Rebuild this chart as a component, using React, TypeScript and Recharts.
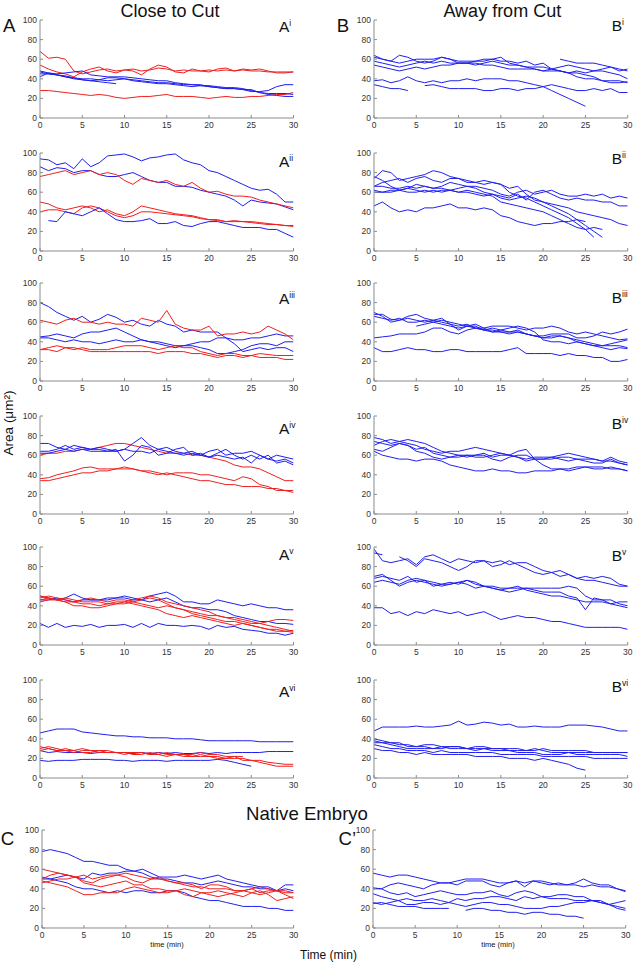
import React from 'react';
import { LineChart, Line, XAxis, YAxis } from 'recharts';

const N = null;
const T = [0,1,2,3,4,5,6,7,8,9,10,11,12,13,14,15,16,17,18,19,20,21,22,23,24,25,26,27,28,29,30];
const X_TICKS = [0,5,10,15,20,25,30];
const Y_TICKS = [0,20,40,60,80,100];

// ---- A i
const Ai_r1 = [68,61,62,60,48,45,47,49,50,48,49,50,48,49,51,50,48,49,48,48,49,48,49,48,49,48,48,47,47,47,47];
const Ai_r2 = [54,50,47,45,42,47,50,52,48,46,49,48,44,50,54,52,47,46,50,48,47,50,51,48,50,49,50,48,46,46,47];
const Ai_r3 = [28,28,27,26,25,24,23,24,23,21,20,21,22,22,23,24,22,22,22,21,20,21,22,21,21,22,22,23,24,24,26];
const Ai_b1 = [48,46,45,46,47,48,44,43,42,42,42,41,40,39,38,38,36,35,34,34,32,31,30,30,29,27,27,28,32,34,34];
const Ai_b2 = [45,45,44,42,41,40,40,39,38,39,40,39,38,37,36,36,35,34,34,33,32,31,30,30,29,29,26,24,23,22,22];
const Ai_b3 = [42,46,44,43,41,39,38,37,36,35,N,N,N,N,N,N,N,N,N,N,N,N,N,N,N,N,N,N,N,N,N];
const Ai_b4 = [47,45,44,42,40,39,38,39,41,41,40,38,37,36,35,35,34,33,32,33,33,32,31,31,30,28,26,25,25,25,24];
// ---- A ii
const Aii_b1 = [94,93,88,90,84,94,86,90,97,98,99,96,92,95,96,98,99,93,90,88,82,80,76,72,68,64,62,63,58,50,50];
const Aii_b2 = [86,82,85,84,80,82,82,78,76,76,78,80,76,72,70,70,66,66,65,62,60,58,56,52,46,52,50,49,48,45,42];
const Aii_r1 = [76,78,80,82,78,80,82,78,80,78,72,68,74,72,70,72,68,66,70,64,60,61,58,56,56,55,52,50,48,46,44];
const Aii_r2 = [50,48,44,42,44,46,44,40,42,38,36,40,46,44,42,40,38,37,36,34,32,32,30,30,30,29,28,27,27,26,25];
const Aii_r3 = [40,42,42,40,38,44,46,44,40,36,34,36,40,40,39,38,37,36,35,33,32,31,30,31,30,30,29,28,27,26,26];
const Aii_b3 = [N,31,30,40,38,36,40,44,38,32,30,30,31,33,28,28,30,26,25,28,30,30,28,26,24,24,24,22,22,18,14];
// ---- A iii
const Aiii_b1 = [80,76,70,66,62,66,60,63,68,65,60,62,58,56,62,58,56,50,52,50,50,50,44,38,30,32,34,32,34,34,30];
const Aiii_r1 = [62,60,58,62,64,60,60,58,60,58,58,56,64,62,60,72,58,54,52,52,56,46,48,48,50,48,50,56,52,48,42];
const Aiii_b2 = [45,46,48,46,44,48,50,50,52,54,50,46,42,40,40,38,36,36,36,34,32,28,28,30,32,36,38,38,36,40,40];
const Aiii_b3 = [44,44,42,40,42,40,40,38,40,42,40,40,42,40,38,36,34,36,38,40,40,44,44,42,42,44,44,46,48,46,46];
const Aiii_r2 = [32,34,36,34,32,34,32,32,32,34,36,36,36,34,32,34,36,34,34,30,28,26,28,28,26,26,28,27,26,26,26];
const Aiii_r3 = [32,32,30,34,34,32,30,30,30,30,30,30,30,30,28,30,30,30,28,28,26,24,26,26,24,26,24,24,24,22,22];
// ---- A iv
const Aiv_b1 = [72,72,68,66,70,68,66,68,66,64,66,72,78,70,66,68,64,62,64,60,64,66,60,62,62,64,60,56,60,58,56];
const Aiv_b2 = [64,64,66,70,66,68,66,66,64,66,54,60,70,68,60,62,66,68,60,62,58,62,66,60,56,60,56,60,52,54,50];
const Aiv_b3 = [62,62,64,66,64,66,64,64,64,64,66,64,64,62,66,64,62,60,62,60,58,60,58,56,58,52,60,56,54,56,52];
const Aiv_r1 = [60,62,62,64,64,66,66,68,70,72,72,70,68,66,64,62,62,62,60,60,58,56,54,50,48,48,46,42,38,34,34];
const Aiv_r2 = [36,37,40,42,44,47,48,46,46,46,48,46,44,42,40,42,40,38,36,34,34,32,30,30,28,28,28,26,26,24,24];
const Aiv_r3 = [34,34,36,38,40,42,42,44,44,46,46,46,44,44,42,40,42,42,42,40,40,38,36,34,38,36,30,28,24,24,22];
// ---- A v
const Av_b1 = [50,48,46,48,52,48,46,46,46,48,48,46,46,50,52,54,50,44,44,42,42,46,44,42,40,42,40,38,38,36,36];
const Av_b2 = [46,46,48,46,44,46,46,46,48,48,50,48,46,44,46,48,44,40,38,38,36,36,34,30,28,26,24,24,22,22,21];
const Av_b3 = [22,18,22,18,20,19,21,18,20,20,21,18,22,18,22,20,20,19,20,19,16,20,18,19,16,15,14,12,12,10,12];
const Av_r1 = [48,50,48,46,44,46,48,46,44,46,46,44,46,48,46,42,38,36,34,32,30,30,28,26,24,22,22,20,18,16,14];
const Av_r2 = [46,48,46,44,40,40,38,38,40,42,44,42,40,38,36,32,30,28,30,28,26,24,22,20,22,20,18,16,16,14,13];
const Av_r3 = [44,46,46,44,44,42,42,40,42,44,44,46,48,50,48,44,42,40,38,36,34,30,28,28,26,24,22,24,26,26,25];
const Av_r4 = [50,48,46,48,46,44,44,44,42,42,42,44,42,40,38,40,38,36,32,30,28,26,24,24,22,20,18,16,14,14,15];
// ---- A vi
const Avi_b1 = [46,48,50,50,50,47,46,45,44,43,43,42,42,41,41,41,40,40,40,39,38,38,38,38,38,38,37,37,37,37,37];
const Avi_r1 = [32,30,28,28,26,28,28,26,26,26,24,26,26,24,24,26,24,24,22,22,22,22,20,20,20,18,18,16,15,14,14];
const Avi_r2 = [30,32,30,28,28,26,26,28,26,26,26,24,24,26,24,22,24,22,22,24,22,20,20,22,18,18,16,14,12,12,12];
const Avi_r3 = [28,30,28,30,28,30,28,28,28,26,26,26,26,24,26,24,24,24,24,26,24,24,22,22,22,N,N,N,N,N,N];
const Avi_b2 = [28,26,27,26,26,26,25,26,26,26,26,25,26,25,26,25,26,25,25,26,25,26,25,26,26,26,26,27,27,27,27];
const Avi_b3 = [18,17,18,18,18,19,19,19,19,18,18,17,18,18,18,17,18,18,18,18,18,19,18,16,14,12,N,N,N,N,N];
// ---- C
const C_b1 = [78,80,78,76,72,68,68,66,64,64,60,58,60,56,52,52,52,54,52,50,52,54,50,48,46,44,42,42,38,44,44];
const C_b2 = [52,50,52,54,52,50,56,54,56,56,58,58,56,52,50,50,48,46,46,44,46,48,46,44,42,42,40,40,38,40,38];
const C_b3 = [50,50,48,46,42,40,40,38,36,38,36,38,38,36,36,38,38,36,32,30,28,28,26,24,22,22,22,20,20,18,18];
const C_r1 = [60,58,56,54,52,54,50,52,54,54,56,54,52,50,50,48,46,44,42,42,40,40,40,38,38,40,42,40,38,36,36];
const C_r2 = [50,54,56,54,52,48,46,50,52,54,52,48,46,50,52,48,46,46,44,40,44,44,42,38,38,40,36,38,38,34,30];
const C_r3 = [48,46,44,42,38,34,34,36,36,36,40,42,40,38,36,36,38,34,32,36,36,38,36,34,32,36,38,34,28,30,32];
const C_r4 = [46,48,50,50,52,46,44,42,44,46,48,44,44,40,40,38,38,40,38,36,34,32,34,36,38,36,34,36,38,38,36];
// ---- B i
const Bi_1 = [64,60,58,64,62,58,56,58,62,60,56,56,58,58,60,62,56,54,52,50,48,50,48,46,42,40,40,38,36,36,37];
const Bi_2 = [62,60,58,56,58,60,60,60,62,60,58,58,58,60,60,58,58,56,58,54,56,50,52,54,52,50,48,50,52,50,48];
const Bi_3 = [58,56,54,52,54,56,58,56,58,56,56,56,56,54,54,52,50,50,50,50,48,48,48,46,48,46,48,48,46,44,40];
const Bi_4 = [54,52,50,48,50,52,50,52,54,54,56,56,54,56,58,56,54,54,52,52,52,50,48,46,46,44,42,38,38,38,36];
const Bi_5 = [N,N,N,N,N,N,N,N,N,N,N,N,N,N,N,N,N,N,N,N,N,N,60,58,56,56,56,54,52,48,50];
const Bi_6 = [38,39,36,38,42,38,36,38,36,38,38,40,38,40,40,40,38,38,36,34,32,34,32,30,28,28,30,28,30,26,26];
const Bi_7 = [34,32,30,30,28,N,N,N,N,N,N,N,N,N,N,N,N,N,N,N,N,N,N,N,N,N,N,N,N,N,N];
const Bi_8 = [N,N,N,N,N,N,33,34,32,30,30,30,30,28,28,30,30,28,30,30,32,28,24,20,16,12,N,N,N,N,N];
// ---- B ii
const Bii_1 = [74,82,80,72,74,76,78,82,80,76,74,70,70,68,70,68,60,56,54,50,46,42,38,34,28,22,14,N,N,N,N];
const Bii_2 = [66,70,72,74,70,74,76,72,70,74,74,72,70,72,70,68,64,66,58,52,50,46,42,38,32,26,20,14,N,N,N];
const Bii_3 = [76,72,66,62,64,68,66,64,66,70,68,66,66,64,62,58,56,60,62,58,60,62,58,56,56,58,56,58,54,56,54];
const Bii_4 = [60,60,62,62,64,62,60,62,60,62,64,66,64,60,58,56,54,58,52,60,62,58,54,52,54,52,52,50,50,46,46];
const Bii_5 = [62,60,60,62,60,60,62,60,62,62,60,60,58,56,58,54,52,54,56,54,50,48,46,44,40,38,36,34,32,28,26];
const Bii_6 = [66,66,64,64,66,64,66,64,64,62,60,62,60,58,56,50,48,46,44,42,40,36,32,28,24,22,24,22,N,N,N];
const Bii_7 = [46,50,44,40,42,40,44,44,46,48,44,44,42,44,42,36,34,30,28,26,28,28,30,30,32,30,N,N,N,N,N];
// ---- B iii
const Biii_1 = [68,68,63,62,66,68,64,62,60,58,56,58,54,52,54,52,50,52,48,46,44,46,46,44,42,40,38,36,36,36,34];
const Biii_2 = [70,66,60,62,64,62,60,62,64,58,52,56,58,54,50,52,54,56,54,50,42,40,40,38,40,38,36,34,32,34,33];
const Biii_3 = [N,N,N,N,N,56,58,60,62,60,58,56,54,54,56,56,56,54,52,54,54,56,54,50,48,50,48,46,44,42,43];
const Biii_4 = [44,45,46,48,48,48,50,54,54,50,48,52,54,52,52,50,48,50,48,46,46,48,48,48,44,44,46,50,48,50,53];
const Biii_5 = [66,64,62,64,60,60,62,60,58,56,54,56,56,52,50,50,50,50,48,46,44,44,46,44,40,38,36,36,38,40,42];
const Biii_6 = [34,30,30,32,34,32,32,30,30,32,32,30,30,30,30,30,32,34,28,28,28,28,26,28,26,26,24,24,20,20,22];
// ---- B iv
const Biv_1 = [78,76,72,74,76,74,72,68,64,62,60,58,60,62,58,60,60,58,54,56,56,58,56,54,56,56,56,54,54,52,50];
const Biv_2 = [74,72,70,72,70,66,68,62,60,58,60,60,58,58,60,62,60,58,56,58,58,58,60,62,60,58,56,54,58,54,52];
const Biv_3 = [70,74,76,74,72,70,66,64,62,64,64,66,68,66,64,62,60,64,66,56,50,46,46,46,48,48,46,46,48,46,44];
const Biv_4 = [66,64,68,72,70,64,62,58,56,58,58,60,60,60,56,54,58,60,60,56,56,56,58,58,56,54,52,52,56,52,50];
const Biv_5 = [64,60,58,56,56,54,56,56,54,50,48,46,44,44,46,44,44,42,42,44,44,44,46,44,46,48,48,48,46,46,44];
// ---- B v
const Bv_1 = [98,86,84,86,88,82,90,92,88,84,88,86,84,86,84,86,82,84,84,80,76,74,70,72,68,70,68,70,68,62,60];
const Bv_2 = [94,92,N,90,86,80,88,86,84,80,76,80,86,86,80,82,86,82,78,74,72,74,76,72,68,66,66,64,62,60,60];
const Bv_3 = [70,72,66,60,64,66,64,62,60,62,64,62,58,60,58,56,54,56,58,58,58,58,58,60,58,50,46,46,42,40,38];
const Bv_4 = [68,70,68,66,70,64,66,64,62,62,64,66,64,60,60,58,58,60,56,54,52,50,50,48,46,44,44,44,42,44,44];
const Bv_5 = [64,66,64,62,66,68,66,60,62,64,62,66,62,60,58,56,58,58,58,56,54,54,54,50,48,36,48,46,46,42,40];
const Bv_6 = [38,38,32,34,30,34,32,36,34,32,34,30,32,34,30,26,28,30,28,28,26,24,24,22,20,18,18,18,18,18,16];
// ---- B vi
const Bvi_1 = [48,52,52,52,52,53,52,52,53,54,58,54,55,57,56,54,55,52,52,53,52,52,52,54,54,54,53,52,50,48,48];
const Bvi_2 = [40,38,36,34,34,32,34,34,32,32,32,30,32,32,30,30,30,30,28,28,30,28,28,28,28,28,26,26,26,26,26];
const Bvi_3 = [36,36,34,32,30,30,30,30,32,30,30,30,28,30,28,28,28,26,26,26,24,24,24,26,24,24,24,24,24,24,22];
const Bvi_4 = [34,32,30,30,28,28,28,26,28,26,26,26,26,26,26,24,24,24,24,24,22,22,22,22,22,22,20,20,20,20,20];
const Bvi_5 = [30,28,28,26,26,24,26,24,24,24,24,24,22,22,22,22,20,20,20,18,20,18,16,14,10,8,N,N,N,N,N];
const Bvi_6 = [38,36,36,36,32,32,32,30,30,32,32,30,30,30,30,30,28,28,28,30,28,26,26,26,26,26,26,26,26,26,26];
// ---- C'
const Cp_1 = [56,54,52,54,54,52,50,48,46,46,48,50,50,50,48,46,46,48,46,48,46,44,46,44,46,50,46,44,44,40,38];
const Cp_2 = [41,40,44,46,44,42,40,44,46,46,44,48,48,48,44,42,46,48,42,48,48,46,44,44,44,42,44,42,42,40,37];
const Cp_3 = [40,40,36,34,36,32,34,36,38,36,34,34,36,36,38,34,32,36,38,36,32,30,30,30,28,28,28,26,24,22,20];
const Cp_4 = [35,32,30,28,30,28,28,30,28,26,30,28,30,30,32,32,30,28,32,30,32,32,34,34,32,32,28,28,24,26,28];
const Cp_5 = [26,24,26,28,24,24,26,26,24,26,24,22,24,26,26,24,24,22,20,20,20,22,22,24,26,26,28,26,24,20,18];
const Cp_6 = [25,26,24,22,22,22,20,20,20,20,N,18,20,20,18,18,16,16,14,16,16,14,14,12,12,10,N,N,N,N,N];

const BLUE = '#1e1eee';
const RED = '#ee1e1e';

type S = { v: (number | null)[]; c: string };
const b = (v: (number | null)[]): S => ({ v, c: BLUE });
const r = (v: (number | null)[]): S => ({ v, c: RED });

const YW = 30;
const MT = 5;
const MR = 10;
const XH = 16;
const PH = 98;

type PanelDef = { x: number; y: number; w: number; s: S[]; letter?: string; sub?: string; lx?: number; ly?: number };

const PANELS: PanelDef[] = [
  { x: 39.5, y: 20, w: 253.5, s: [r(Ai_r1), r(Ai_r2), r(Ai_r3), b(Ai_b1), b(Ai_b2), b(Ai_b3), b(Ai_b4)], letter: 'A', sub: 'i', lx: 279, ly: 20.7 },
  { x: 39.5, y: 152.7, w: 253.5, s: [b(Aii_b1), b(Aii_b2), r(Aii_r1), r(Aii_r2), r(Aii_r3), b(Aii_b3)], letter: 'A', sub: 'ii', lx: 279, ly: 156 },
  { x: 39.5, y: 283.3, w: 253.5, s: [b(Aiii_b1), b(Aiii_b2), b(Aiii_b3), r(Aiii_r1), r(Aiii_r2), r(Aiii_r3)], letter: 'A', sub: 'iii', lx: 279, ly: 293.3 },
  { x: 39.5, y: 416, w: 253.5, s: [r(Aiv_r1), r(Aiv_r2), r(Aiv_r3), b(Aiv_b1), b(Aiv_b2), b(Aiv_b3)], letter: 'A', sub: 'iv', lx: 279, ly: 423 },
  { x: 39.5, y: 547.3, w: 253.5, s: [b(Av_b1), b(Av_b2), b(Av_b3), r(Av_r1), r(Av_r2), r(Av_r3), r(Av_r4)], letter: 'A', sub: 'v', lx: 279, ly: 549 },
  { x: 39.5, y: 680, w: 253.5, s: [b(Avi_b1), b(Avi_b2), b(Avi_b3), r(Avi_r1), r(Avi_r2), r(Avi_r3)], letter: 'A', sub: 'vi', lx: 279, ly: 686 },
  { x: 41.7, y: 830, w: 251.6, s: [b(C_b1), b(C_b2), b(C_b3), r(C_r1), r(C_r2), r(C_r3), r(C_r4)] },
  { x: 374.3, y: 20, w: 253.7, s: [b(Bi_1), b(Bi_2), b(Bi_3), b(Bi_4), b(Bi_5), b(Bi_6), b(Bi_7), b(Bi_8)], letter: 'B', sub: 'i', lx: 611.7, ly: 20 },
  { x: 374.3, y: 152.7, w: 253.7, s: [b(Bii_1), b(Bii_2), b(Bii_3), b(Bii_4), b(Bii_5), b(Bii_6), b(Bii_7)], letter: 'B', sub: 'ii', lx: 611.7, ly: 153 },
  { x: 374.3, y: 283.3, w: 253.7, s: [b(Biii_1), b(Biii_2), b(Biii_3), b(Biii_4), b(Biii_5), b(Biii_6)], letter: 'B', sub: 'iii', lx: 611.7, ly: 292 },
  { x: 374.3, y: 416, w: 253.7, s: [b(Biv_1), b(Biv_2), b(Biv_3), b(Biv_4), b(Biv_5)], letter: 'B', sub: 'iv', lx: 611.7, ly: 418 },
  { x: 374.3, y: 547.3, w: 253.7, s: [b(Bv_1), b(Bv_2), b(Bv_3), b(Bv_4), b(Bv_5), b(Bv_6)], letter: 'B', sub: 'v', lx: 611.7, ly: 550 },
  { x: 374.3, y: 680, w: 253.7, s: [b(Bvi_1), b(Bvi_2), b(Bvi_3), b(Bvi_4), b(Bvi_5), b(Bvi_6)], letter: 'B', sub: 'vi', lx: 611.7, ly: 680.5 },
  { x: 373.3, y: 830, w: 252.7, s: [b(Cp_1), b(Cp_2), b(Cp_3), b(Cp_4), b(Cp_5), b(Cp_6)] },
];

const FONT = '"Liberation Sans", Arial, Helvetica, sans-serif';
const tickStyle = { fill: '#333', fontSize: 8.5, fontFamily: FONT };

function Panel({ p }: { p: PanelDef }) {
  const data = T.map((t, i) => {
    const row: Record<string, number | null> = { t };
    p.s.forEach((s, j) => {
      row['s' + j] = s.v[i];
    });
    return row;
  });
  return (
    <div style={{ position: 'absolute', left: p.x - YW, top: p.y - MT }}>
      <LineChart width={YW + p.w + MR} height={MT + PH + XH} data={data} margin={{ top: MT, right: MR, left: 0, bottom: 0 }}>
        <XAxis dataKey="t" type="number" domain={[0, 30]} ticks={X_TICKS} interval={0} height={XH}
          tickSize={-3} tickMargin={6.5} stroke="#8c8c8c" tick={tickStyle} allowDataOverflow />
        <YAxis type="number" domain={[0, 100]} ticks={Y_TICKS} interval={0} width={YW}
          tickSize={-3} tickMargin={6} stroke="#8c8c8c" tick={tickStyle} allowDataOverflow />
        {p.s.map((s, j) => (
          <Line key={j} type="linear" dataKey={'s' + j} stroke={s.c} strokeWidth={1} dot={false}
            activeDot={false} isAnimationActive={false} connectNulls={false} />
        ))}
      </LineChart>
    </div>
  );
}

function Txt({ x, y, size, children, center, w }: { x: number; y: number; size: number; children: React.ReactNode; center?: boolean; w?: number }) {
  const width = w ?? 200;
  return (
    <div style={{ position: 'absolute', left: center ? x - width / 2 : x, top: y, width: center ? width : undefined,
      textAlign: center ? 'center' : 'left', fontSize: size, lineHeight: 1.15, fontFamily: FONT, color: '#111', whiteSpace: 'nowrap' }}>
      {children}
    </div>
  );
}

export default function App() {
  return (
    <div style={{ position: 'absolute', left: 0, top: 0, width: 633, height: 963, background: '#fff', overflow: 'hidden' }}>
      {PANELS.map((p, i) => <Panel key={i} p={p} />)}
      {PANELS.filter((p) => p.sub).map((p, i) => (
        <div key={'l' + i} style={{ position: 'absolute', left: p.lx, top: (p.ly as number) - 2, fontFamily: FONT, lineHeight: 1, color: '#111', whiteSpace: 'nowrap' }}>
          <span style={{ fontSize: 15.5 }}>{p.letter}</span>
          <span style={{ fontSize: 8.5, verticalAlign: 'top' }}>{p.sub}</span>
        </div>
      ))}
      <Txt x={170} y={0.5} size={18} center>Close to Cut</Txt>
      <Txt x={502.3} y={0.5} size={18} center>Away from Cut</Txt>
      <Txt x={3} y={14.5} size={18.6}>A</Txt>
      <Txt x={336.8} y={14.5} size={18.6}>B</Txt>
      <Txt x={0.7} y={828} size={18.6}>C</Txt>
      <Txt x={338.5} y={828.3} size={18.6}>C’</Txt>
      <Txt x={307} y={803} size={18.6} center>Native Embryo</Txt>
      <Txt x={167} y={940.7} size={7.5} center>time (min)</Txt>
      <Txt x={498} y={940.7} size={7.5} center>time (min)</Txt>
      <Txt x={328.5} y={949} size={12} center>Time (min)</Txt>
      <div style={{ position: 'absolute', left: 8.5 - 50, top: 423 - 8, width: 100, height: 16, textAlign: 'center',
        fontSize: 13.5, lineHeight: '16px', fontFamily: FONT, color: '#111', transform: 'rotate(-90deg)', whiteSpace: 'nowrap' }}>
        Area (μm²)
      </div>
    </div>
  );
}
